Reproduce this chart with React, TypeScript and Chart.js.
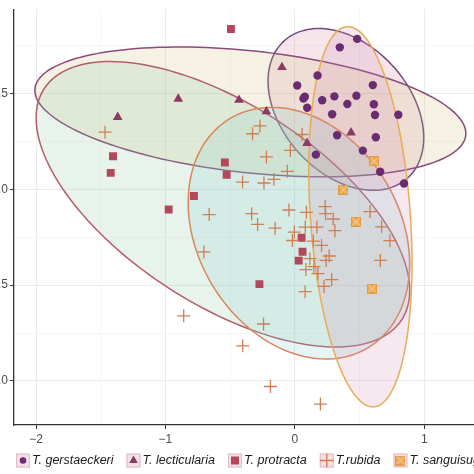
import React, { useEffect, useRef } from "react";
import { Chart, registerables } from "chart.js";

Chart.register(...registerables);

const SPECIES = ["T. gerstaeckeri", "T. lecticularia", "T. protracta", "T.rubida", "T. sanguisuga"];

const GERSTAECKERI_X = [0.481, 0.347, 0.175, 0.018, 0.602, 0.066, 0.077, 0.211, 0.305, 0.475, 0.405, 0.61, 0.095, 0.288, 0.619, 0.799, 0.326, 0.625, 0.162, 0.525, 0.659, 0.843];
const GERSTAECKERI_Y = [1.785, 1.741, 1.594, 1.542, 1.544, 1.474, 1.483, 1.465, 1.485, 1.488, 1.445, 1.444, 1.426, 1.392, 1.388, 1.389, 1.282, 1.272, 1.181, 1.202, 1.092, 1.03];

const LECTICULARIA_X = [-1.369, -0.901, -0.432, -0.22, -0.1, 0.094, 0.434];
const LECTICULARIA_Y = [1.377, 1.472, 1.466, 1.406, 1.637, 1.241, 1.296];

const PROTRACTA_X = [-0.494, -1.405, -1.423, -0.541, -0.527, -0.78, -0.975, 0.052, 0.059, 0.029, -0.274];
const PROTRACTA_Y = [1.837, 1.173, 1.086, 1.14, 1.076, 0.965, 0.895, 0.747, 0.674, 0.628, 0.505];

const RUBIDA_X = [-1.467, -0.327, -0.27, -0.22, -0.035, 0.056, -0.058, -0.404, -0.239, -0.162, -0.662, -0.334, -0.288, -0.153, -0.046, 0.089, 0.234, 0.237, 0.296, 0.309, -0.004, 0.08, 0.17, -0.019, 0.143, 0.206, -0.703, 0.265, 0.241, 0.116, 0.147, 0.085, 0.178, 0.284, 0.225, 0.079, 0.581, 0.67, 0.734, 0.66, -0.242, -0.859, -0.403, -0.189, 0.197];
const RUBIDA_Y = [1.298, 1.29, 1.331, 1.169, 1.203, 1.286, 1.094, 1.038, 1.033, 1.052, 0.868, 0.873, 0.817, 0.797, 0.892, 0.88, 0.91, 0.873, 0.845, 0.784, 0.777, 0.803, 0.803, 0.733, 0.73, 0.707, 0.673, 0.652, 0.629, 0.638, 0.597, 0.581, 0.56, 0.529, 0.493, 0.466, 0.884, 0.804, 0.732, 0.629, 0.297, 0.34, 0.183, -0.029, -0.121];

const SANGUISUGA_X = [0.612, 0.375, 0.473, 0.595];
const SANGUISUGA_Y = [1.147, 0.998, 0.831, 0.482];

// Ellipse: centre + cos(t)*A + sin(t)*B (conjugate semi-axes, data units)
const ELLIPSE_CX = [0.394, -0.344, -0.556, 0.031, 0.506];
const ELLIPSE_CY = [1.417, 1.404, 0.922, 0.771, 0.857];
const ELLIPSE_AX = [0.475, 1.664, 1.381, 0.533, 0.104];
const ELLIPSE_AY = [-0.359, -0.122, -0.603, -0.598, -0.992];
const ELLIPSE_BX = [-0.369, -0.051, -0.419, -0.669, -0.385];
const ELLIPSE_BY = [-0.222, -0.316, -0.4375, -0.271, -0.018];

const X_TICKS = [-2, -1.5, -1, -0.5, 0, 0.5, 1, 1.5];
const Y_TICKS = [0, 0.25, 0.5, 0.75, 1, 1.25, 1.5, 1.75];

const POINT_COLORS = ["#6a2c70", "#8b3a62", "#b3485b", "#d07e52", "#e9a246"];
const LINE_COLORS = ["#6e4a7f", "#8a4a7b", "#b25c6c", "#d8875c", "#eaab55"];
const FILL_COLORS = [
  "rgba(210,130,160,0.2)",
  "rgba(205,190,115,0.2)",
  "rgba(140,195,155,0.2)",
  "rgba(135,198,212,0.2)",
  "rgba(205,140,170,0.2)",
];

const FONT = '"Liberation Sans", Arial, Helvetica, sans-serif';

const pts = (xs: number[], ys: number[]) => xs.map((x, i) => ({ x, y: ys[i] }));

const isMajorX = (v: number) => Math.abs(v - Math.round(v)) < 1e-6;
const isMajorY = (v: number) => Math.abs(v * 2 - Math.round(v * 2)) < 1e-6;

function makeSquareCross(): HTMLCanvasElement {
  const c = document.createElement("canvas");
  c.width = 10;
  c.height = 10;
  const g = c.getContext("2d")!;
  g.fillStyle = "#eba650";
  g.fillRect(0, 0, 10, 10);
  g.strokeStyle = "#f5c98c";
  g.lineWidth = 1.2;
  g.beginPath();
  g.moveTo(1.5, 1.5);
  g.lineTo(8.5, 8.5);
  g.moveTo(8.5, 1.5);
  g.lineTo(1.5, 8.5);
  g.stroke();
  g.strokeStyle = "#e39b3f";
  g.lineWidth = 1;
  g.strokeRect(0.5, 0.5, 9, 9);
  return c;
}

const ellipsePlugin = {
  id: "ellipses",
  beforeDatasetsDraw(chart: any) {
    const { ctx } = chart;
    const xs = chart.scales.x;
    const ys = chart.scales.y;
    const N = 160;
    ctx.save();
    for (let k = 0; k < ELLIPSE_CX.length; k++) {
      ctx.beginPath();
      for (let i = 0; i <= N; i++) {
        const t = (i / N) * Math.PI * 2;
        const dx = ELLIPSE_CX[k] + Math.cos(t) * ELLIPSE_AX[k] + Math.sin(t) * ELLIPSE_BX[k];
        const dy = ELLIPSE_CY[k] + Math.cos(t) * ELLIPSE_AY[k] + Math.sin(t) * ELLIPSE_BY[k];
        const px = xs.getPixelForValue(dx);
        const py = ys.getPixelForValue(dy);
        if (i === 0) ctx.moveTo(px, py);
        else ctx.lineTo(px, py);
      }
      ctx.closePath();
      ctx.fillStyle = FILL_COLORS[k];
      ctx.fill();
      ctx.strokeStyle = LINE_COLORS[k];
      ctx.lineWidth = 1.5;
      ctx.stroke();
    }
    ctx.restore();
  },
};

function drawMarker(ctx: CanvasRenderingContext2D, k: number, x: number, y: number, img: HTMLCanvasElement) {
  ctx.save();
  ctx.fillStyle = POINT_COLORS[k];
  ctx.strokeStyle = POINT_COLORS[k];
  if (k === 0) {
    ctx.beginPath();
    ctx.arc(x, y, 3.3, 0, Math.PI * 2);
    ctx.fill();
  } else if (k === 1) {
    const r = 5;
    ctx.beginPath();
    ctx.moveTo(x, y - r);
    ctx.lineTo(x + r * 0.866, y + r * 0.5);
    ctx.lineTo(x - r * 0.866, y + r * 0.5);
    ctx.closePath();
    ctx.fill();
  } else if (k === 2) {
    ctx.fillRect(x - 4, y - 4, 8, 8);
  } else if (k === 3) {
    ctx.lineWidth = 1.3;
    ctx.beginPath();
    ctx.moveTo(x - 7, y);
    ctx.lineTo(x + 7, y);
    ctx.moveTo(x, y - 7);
    ctx.lineTo(x, y + 7);
    ctx.stroke();
  } else {
    ctx.drawImage(img, x - 5, y - 5, 10, 10);
  }
  ctx.restore();
}

function makeLegendPlugin(img: HTMLCanvasElement, offset: number) {
  return {
    id: "bottomLegend",
    afterDraw(chart: any) {
      const { ctx } = chart;
      ctx.save();
      ctx.font = `italic 12.5px ${FONT}`;
      ctx.textBaseline = "middle";
      ctx.textAlign = "left";
      const yc = 460.5;
      let x = 16 + offset;
      const box = 14;
      for (let k = 0; k < SPECIES.length; k++) {
        ctx.fillStyle = "#f3dfe6";
        ctx.fillRect(x, yc - box / 2, box, box);
        ctx.strokeStyle = "#e3b9c7";
        ctx.lineWidth = 1;
        ctx.strokeRect(x + 0.5, yc - box / 2 + 0.5, box - 1, box - 1);
        drawMarker(ctx, k, x + box / 2, yc, img);
        ctx.fillStyle = "#1a1a1a";
        const tx = x + 16;
        ctx.fillText(SPECIES[k], tx, yc);
        x = tx + ctx.measureText(SPECIES[k]).width + 13;
      }
      ctx.restore();
    },
  };
}

export default function App() {
  const ref = useRef<HTMLCanvasElement>(null);

  useEffect(() => {
    const canvas = ref.current;
    if (!canvas) return;
    const sq = makeSquareCross();
    const OFFSET = 26;

    const chart = new Chart(canvas, {
      type: "scatter",
      data: {
        datasets: [
          {
            label: SPECIES[0],
            data: pts(GERSTAECKERI_X, GERSTAECKERI_Y),
            pointStyle: "circle",
            pointRadius: 4.2,
            backgroundColor: POINT_COLORS[0],
            borderColor: POINT_COLORS[0],
            borderWidth: 0,
            order: 4,
          },
          {
            label: SPECIES[1],
            data: pts(LECTICULARIA_X, LECTICULARIA_Y),
            pointStyle: "triangle",
            pointRadius: 5.6,
            backgroundColor: POINT_COLORS[1],
            borderColor: POINT_COLORS[1],
            borderWidth: 0,
            order: 3,
          },
          {
            label: SPECIES[2],
            data: pts(PROTRACTA_X, PROTRACTA_Y),
            pointStyle: "rect",
            pointRadius: 5.6,
            backgroundColor: POINT_COLORS[2],
            borderColor: POINT_COLORS[2],
            borderWidth: 0,
            order: 2,
          },
          {
            label: SPECIES[3],
            data: pts(RUBIDA_X, RUBIDA_Y),
            pointStyle: "cross",
            pointRadius: 6.5,
            backgroundColor: POINT_COLORS[3],
            borderColor: POINT_COLORS[3],
            borderWidth: 1.3,
            order: 1,
          },
          {
            label: SPECIES[4],
            data: pts(SANGUISUGA_X, SANGUISUGA_Y),
            pointStyle: sq as any,
            pointRadius: 5,
            backgroundColor: POINT_COLORS[4],
            borderColor: POINT_COLORS[4],
            borderWidth: 0,
            order: 0,
          },
        ],
      },
      options: {
        responsive: false,
        animation: false,
        devicePixelRatio: 1,
        layout: { padding: { left: 0, top: 8, right: 12, bottom: 0 } },
        plugins: {
          legend: { display: false },
          tooltip: { enabled: false },
        },
        scales: {
          x: {
            type: "linear",
            min: -2.17,
            max: 1.6,
            afterBuildTicks: (s: any) => {
              s.ticks = X_TICKS.map((v) => ({ value: v }));
            },
            afterFit: (s: any) => {
              s.height = 49;
            },
            grid: {
              color: (c: any) => (c.tick && isMajorX(c.tick.value) ? "#ebebeb" : "#f4f4f4"),
              lineWidth: (c: any) => (c.tick && isMajorX(c.tick.value) ? 1 : 0.8),
              tickLength: 4,
              tickColor: (c: any) => (c.tick && isMajorX(c.tick.value) ? "#333333" : "rgba(0,0,0,0)"),
              drawTicks: true,
            },
            border: { display: true, color: "#333333", width: 1.3 },
            ticks: {
              autoSkip: false,
              maxRotation: 0,
              padding: 3,
              color: "#4d4d4d",
              font: { family: FONT, size: 12 },
              callback: (v: any) => {
                const n = Number(v);
                if (!isMajorX(n)) return "";
                return n < 0 ? "\u2212" + Math.abs(n) : String(n);
              },
            },
          },
          y: {
            type: "linear",
            min: -0.23,
            max: 1.94,
            afterBuildTicks: (s: any) => {
              s.ticks = Y_TICKS.map((v) => ({ value: v }));
            },
            afterFit: (s: any) => {
              s.width = 40;
            },
            grid: {
              color: (c: any) => (c.tick && isMajorY(c.tick.value) ? "#ebebeb" : "#f4f4f4"),
              lineWidth: (c: any) => (c.tick && isMajorY(c.tick.value) ? 1 : 0.8),
              tickLength: 4,
              tickColor: (c: any) => (c.tick && isMajorY(c.tick.value) ? "#333333" : "rgba(0,0,0,0)"),
              drawTicks: true,
            },
            border: { display: true, color: "#333333", width: 1.3 },
            ticks: {
              autoSkip: false,
              padding: 2,
              color: "#4d4d4d",
              font: { family: FONT, size: 12 },
              callback: (v: any) => {
                const n = Number(v);
                if (!isMajorY(n)) return "";
                return n.toFixed(1);
              },
            },
          },
        },
      } as any,
      plugins: [ellipsePlugin, makeLegendPlugin(sq, OFFSET)],
    });

    return () => chart.destroy();
  }, []);

  return (
    <div
      style={{
        position: "fixed",
        left: 0,
        top: 0,
        width: 474,
        height: 474,
        overflow: "hidden",
        background: "#ffffff",
      }}
    >
      <div style={{ position: "absolute", left: -26, top: 0, width: 540, height: 474 }}>
        <canvas ref={ref} width={540} height={474} style={{ display: "block", width: 540, height: 474 }} />
      </div>
    </div>
  );
}
